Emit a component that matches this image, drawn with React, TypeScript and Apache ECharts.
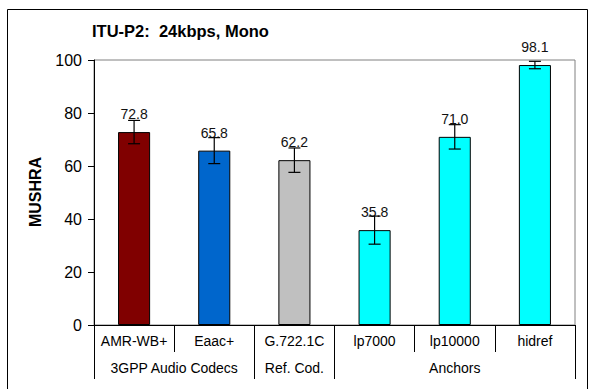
import React, { useEffect, useRef } from "react";
import * as echarts from "echarts";

const categories = ["AMR-WB+", "Eaac+", "G.722.1C", "lp7000", "lp10000", "hidref"];
const scores = [72.8, 65.8, 62.2, 35.8, 71.0, 98.1];
const ciHalf = [4.4, 4.9, 4.6, 5.3, 4.6, 1.4];
const barColors = ["#800000", "#0066CC", "#C0C0C0", "#00FFFF", "#00FFFF", "#00FFFF"];
const groupNames = ["3GPP Audio Codecs", "Ref. Cod.", "Anchors"];
const groupSizes = [2, 1, 3];
const titleText = "ITU-P2:  24kbps, Mono";
const yName = "MUSHRA";

const FONT = "'Liberation Sans', Arial, sans-serif";

export default function App() {
  const ref = useRef<HTMLDivElement>(null);
  useEffect(() => {
    if (!ref.current) return;
    const chart = echarts.init(ref.current, null, { renderer: "svg" });

    const bounds: number[] = [0];
    const centers: number[] = [];
    groupSizes.forEach((s) => {
      const start = bounds[bounds.length - 1];
      centers.push(start + s / 2);
      bounds.push(start + s);
    });

    const errData = categories.map((_, i) => [i, scores[i] - ciHalf[i], scores[i] + ciHalf[i]]);

    chart.setOption({
      animation: false,
      backgroundColor: "#fff",
      textStyle: { fontFamily: FONT },
      grid: {
        left: 94,
        right: 16,
        top: 60,
        bottom: 64,
        show: true,
        borderColor: "#808080",
        borderWidth: 1,
        backgroundColor: "transparent",
      },
      graphic: [
        {
          type: "rect",
          shape: { x: 7.5, y: 9.5, width: 580, height: 400 },
          style: { fill: "none", stroke: "#000", lineWidth: 1 },
          silent: true,
        },
        {
          type: "text",
          x: 92,
          y: 31,
          style: {
            text: titleText,
            font: `bold 16.5px ${FONT}`,
            fill: "#000",
            verticalAlign: "middle",
            align: "left",
          },
        },
        {
          type: "text",
          x: 35,
          y: 192,
          rotation: Math.PI / 2,
          style: {
            text: yName,
            font: `bold 16px ${FONT}`,
            fill: "#000",
            verticalAlign: "middle",
            align: "center",
          },
        },
      ],
      xAxis: [
        {
          type: "category",
          data: categories,
          boundaryGap: true,
          axisLine: { show: true, lineStyle: { color: "#000", width: 1 } },
          axisTick: { show: true, interval: 0, length: 27, alignWithLabel: false, lineStyle: { color: "#000" } },
          axisLabel: { interval: 0, margin: 9, fontSize: 14, color: "#000", fontFamily: FONT },
          splitLine: { show: false },
        },
        {
          type: "value",
          min: 0,
          max: categories.length,
          position: "bottom",
          offset: 27,
          axisLine: { show: false },
          splitLine: { show: false },
          axisTick: {
            show: true,
            customValues: bounds,
            length: 27,
            lineStyle: { color: "#000" },
          },
          axisLabel: {
            customValues: centers,
            margin: 9,
            fontSize: 14,
            color: "#000",
            fontFamily: FONT,
            formatter: (v: number) => {
              const idx = centers.findIndex((c) => Math.abs(c - v) < 1e-6);
              return idx >= 0 ? groupNames[idx] : "";
            },
          },
        },
      ],
      yAxis: {
        type: "value",
        min: 0,
        max: 100,
        interval: 20,
        axisLine: { show: true, lineStyle: { color: "#000", width: 1 } },
        axisTick: { show: true, length: 6, lineStyle: { color: "#000" } },
        axisLabel: { margin: 12, fontSize: 16, color: "#000", fontFamily: FONT },
        splitLine: { show: false },
      },
      series: [
        {
          type: "bar",
          xAxisIndex: 0,
          barWidth: "40%",
          data: scores.map((v, i) => ({
            value: v,
            itemStyle: { color: barColors[i], borderColor: "#000", borderWidth: 1 },
          })),
          label: {
            show: true,
            position: "top",
            distance: 11,
            fontSize: 14,
            color: "#111",
            fontFamily: FONT,
            formatter: (p: any) => Number(p.value).toFixed(1),
          },
          z: 2,
        },
        {
          type: "custom",
          xAxisIndex: 0,
          data: errData,
          encode: { x: 0, y: [1, 2] },
          z: 5,
          renderItem: (params: any, api: any) => {
            const x = api.value(0);
            const lo = api.coord([x, api.value(1)]);
            const hi = api.coord([x, api.value(2)]);
            const hw = 6;
            const st = { stroke: "#000", lineWidth: 1.2 };
            return {
              type: "group",
              children: [
                { type: "line", shape: { x1: hi[0], y1: hi[1], x2: lo[0], y2: lo[1] }, style: st },
                { type: "line", shape: { x1: hi[0] - hw, y1: hi[1], x2: hi[0] + hw, y2: hi[1] }, style: st },
                { type: "line", shape: { x1: lo[0] - hw, y1: lo[1], x2: lo[0] + hw, y2: lo[1] }, style: st },
              ],
            };
          },
        },
      ],
    });

    return () => chart.dispose();
  }, []);

  return (
    <div
      ref={ref}
      style={{ position: "fixed", left: 0, top: 0, width: 591, height: 389, background: "#fff" }}
    />
  );
}
